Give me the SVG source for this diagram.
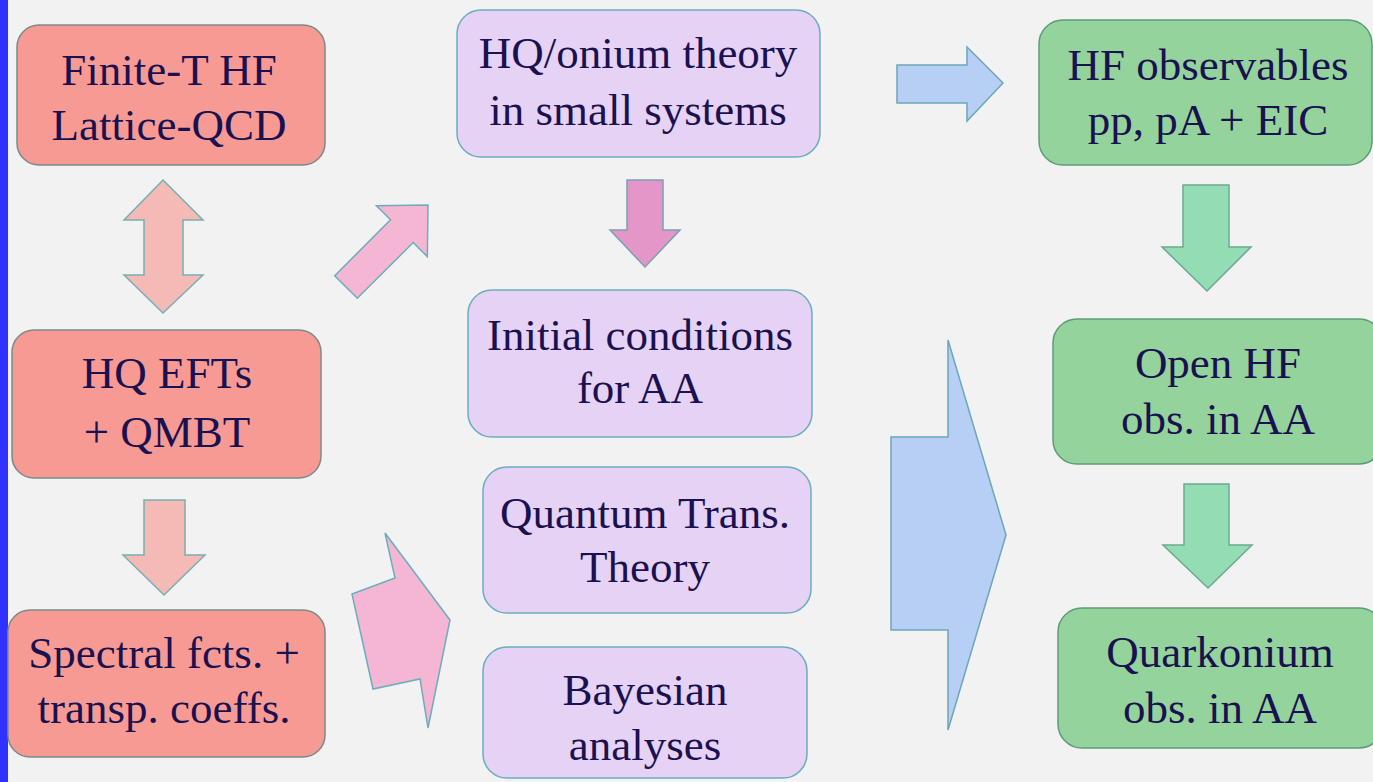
<svg xmlns="http://www.w3.org/2000/svg" width="1373" height="782" viewBox="0 0 1373 782">
<style>
.bg{fill:#f2f2f2}
.red{fill:#f79a94;stroke:#7e8a88;stroke-width:1.5}
.lav{fill:#e6d2f5;stroke:#6aaebe;stroke-width:1.5}
.grn{fill:#94d49c;stroke:#5c9c78;stroke-width:1.5}
.t{font-family:'Liberation Serif','Times New Roman',Times,Tinos,'Nimbus Roman','Nimbus Roman No9 L',FreeSerif,'Noto Serif','DejaVu Serif',Georgia,serif;font-size:45px;fill:#1a1150;text-anchor:middle}
.a-red{fill:#f5bab6;stroke:#78b0b0;stroke-width:1.5}
.a-pink{fill:#f5b6d4;stroke:#6aaebe;stroke-width:1.5}
.a-mag{fill:#e596c8;stroke:#7aa0b0;stroke-width:1.5}
.a-blue{fill:#b8cff5;stroke:#6aa8b8;stroke-width:1.5}
.a-grn{fill:#94dcb4;stroke:#6aaa90;stroke-width:1.5}
</style>
<rect class="bg" x="0" y="0" width="1373" height="782"/>
<rect x="0" y="0" width="8" height="782" fill="#3030ff"/>

<g id="connectors">
  <polygon class="a-red" points="163,180 203,220 183,220 183,275 203,275 163,313 124,275 144,275 144,220 124,220"/>
  <polygon class="a-red" points="144,500 185,500 185,555 205,555 164,595 123,555 144,555"/>
  <polygon class="a-pink" transform="translate(346,287) rotate(-45)" points="0,-16 79,-16 79,-36 116,0 79,36 79,16 0,16"/>
  <polygon class="a-pink" points="385,533 395,578 352,594 373,689 420,679 428,728 450,620"/>
  <polygon class="a-mag" points="627,180 663,180 663,230 680,230 645,267 610,230 627,230"/>
  <polygon class="a-blue" points="897,65 967,65 967,47 1003,83 967,121 967,103 897,103"/>
  <polygon class="a-blue" points="948,340 1006,535 948,730 948,630 891,630 891,437 948,437"/>
  <polygon class="a-grn" points="1183,185 1229,185 1229,247 1251,247 1207,291 1162,247 1183,247"/>
  <polygon class="a-grn" points="1184,484 1229,484 1229,545 1252,545 1208,588 1163,545 1184,545"/>
</g>

<g id="n-finite">
  <rect class="red" x="17" y="25" width="308" height="140" rx="22"/>
  <text class="t" x="169" y="85">Finite-T HF</text>
  <text class="t" x="169" y="140">Lattice-QCD</text>
</g>
<g id="n-eft">
  <rect class="red" x="12" y="330" width="309" height="148" rx="22"/>
  <text class="t" x="167" y="388">HQ EFTs</text>
  <text class="t" x="167" y="447">+ QMBT</text>
</g>
<g id="n-spectral">
  <rect class="red" x="8" y="610" width="317" height="147" rx="22"/>
  <text class="t" x="164" y="668">Spectral fcts. +</text>
  <text class="t" x="164" y="723">transp. coeffs.</text>
</g>
<g id="n-onium">
  <rect class="lav" x="457" y="10" width="363" height="147" rx="24"/>
  <text class="t" x="638" y="68">HQ/onium theory</text>
  <text class="t" x="638" y="125">in small systems</text>
</g>
<g id="n-initial">
  <rect class="lav" x="468" y="290" width="344" height="147" rx="24"/>
  <text class="t" x="640" y="350">Initial conditions</text>
  <text class="t" x="640" y="403">for AA</text>
</g>
<g id="n-quantum">
  <rect class="lav" x="483" y="467" width="328" height="146" rx="24"/>
  <text class="t" x="645" y="528">Quantum Trans.</text>
  <text class="t" x="645" y="582">Theory</text>
</g>
<g id="n-bayes">
  <rect class="lav" x="483" y="647" width="324" height="131" rx="24"/>
  <text class="t" x="645" y="705">Bayesian</text>
  <text class="t" x="645" y="760">analyses</text>
</g>
<g id="n-hfobs">
  <rect class="grn" x="1039" y="20" width="333" height="145" rx="24"/>
  <text class="t" x="1208" y="80">HF observables</text>
  <text class="t" x="1208" y="135">pp, pA + EIC</text>
</g>
<g id="n-openhf">
  <rect class="grn" x="1053" y="319" width="330" height="145" rx="24"/>
  <text class="t" x="1218" y="378">Open HF</text>
  <text class="t" x="1218" y="434">obs. in AA</text>
</g>
<g id="n-quarkonium">
  <rect class="grn" x="1058" y="608" width="325" height="140" rx="24"/>
  <text class="t" x="1220" y="667">Quarkonium</text>
  <text class="t" x="1220" y="723">obs. in AA</text>
</g>
</svg>
